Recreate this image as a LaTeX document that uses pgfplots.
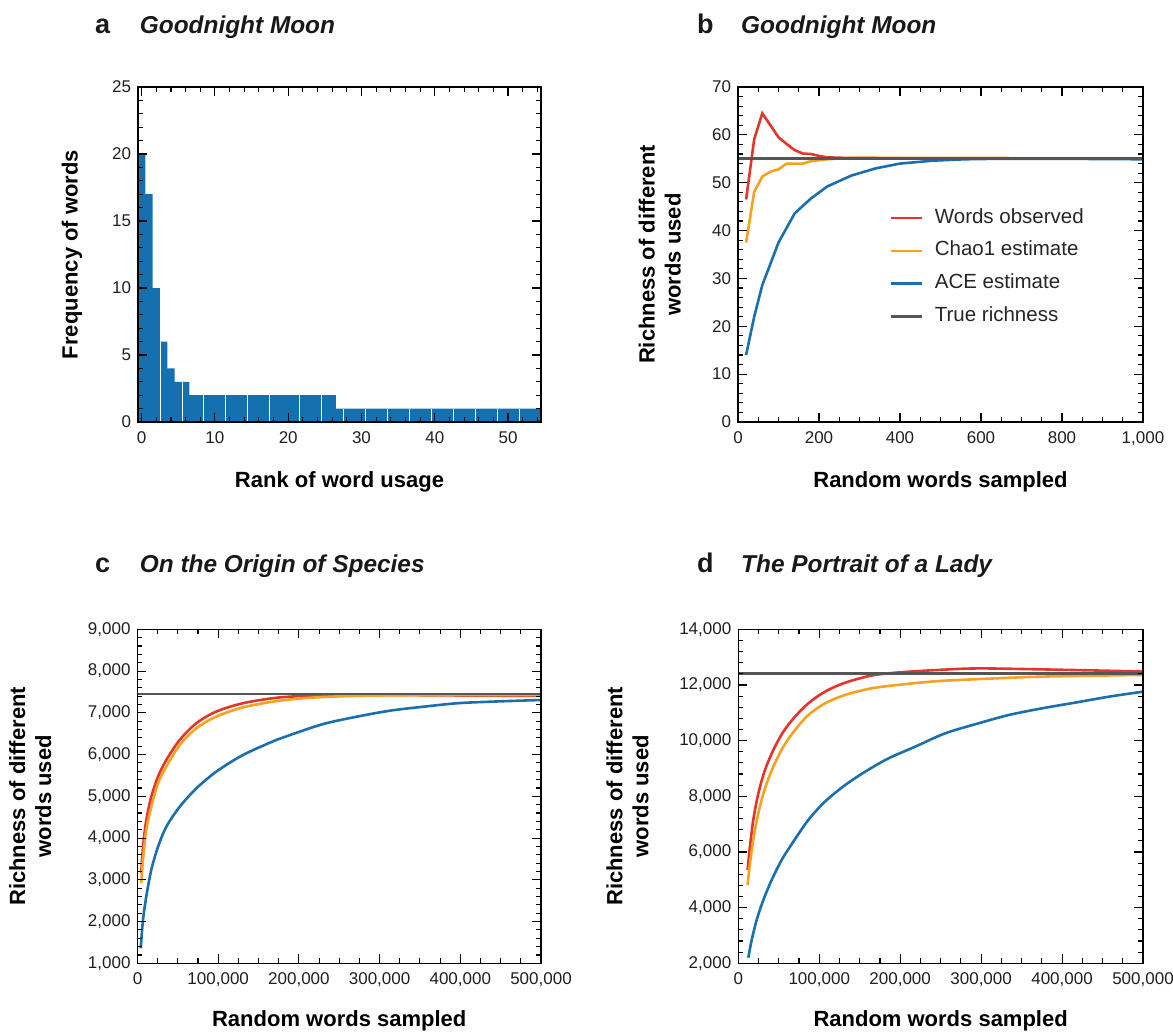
\documentclass[border=0pt]{standalone}
\usepackage{fontspec}
\setmainfont{Liberation Sans}
\usepackage{pgfplots}
\pgfplotsset{compat=1.18}

\definecolor{barblue}{HTML}{1570AF}
\definecolor{cred}{HTML}{E4352B}
\definecolor{corange}{HTML}{F7A21F}
\definecolor{cblue}{HTML}{1A6FAF}
\definecolor{cgray}{HTML}{555555}

\pgfplotsset{
  panel/.style={
    scale only axis, axis on top, clip=true,
    tick align=inside, major tick length=9pt, minor tick length=5pt,
    tick style={black, line width=1.1pt},
    axis line style={line width=1.3pt},
    tick label style={font=\fontsize{17}{20}\selectfont, text=black!88},
    xticklabel style={yshift=-6pt},
    yticklabel style={xshift=-3.5pt},
    label style={font=\bfseries\fontsize{22}{26}\selectfont},
    /pgf/number format/assume math mode=true,
    /pgf/number format/fixed,
    /pgf/number format/1000 sep={,},
    scaled ticks=false,
  },
  curve/.style={line width=2.6pt, no markers},
}

\begin{document}
\begin{tikzpicture}
\path[use as bounding box] (0,0) rectangle (1173pt,-1033pt);

% panel a
\begin{axis}[panel, at={(138pt,-422pt)}, anchor=south west,
  width=403pt, height=335pt,
  xmin=-0.5, xmax=54.5, ymin=0, ymax=25,
  xtick={0,10,...,50}, minor xtick={2,4,...,54},
  ytick={0,5,...,25}, minor ytick={0,1,...,25},
  xlabel={Rank of word usage}, ylabel={Frequency of words},
  xlabel style={at={(axis description cs:0.5,-0.179)}, anchor=center},
  ylabel style={at={(axis description cs:-0.164,0.5)}, anchor=center}]
\addplot[const plot mark left, fill=barblue, draw=none] coordinates {
  (-0.5,20) (0.5,17) (1.5,10) (2.5,6) (3.5,4) (4.5,3) (6.5,2) (26.5,1) (54.5,1)} \closedcycle;
\addplot[ycomb, white, line width=0.9pt, mark=none] coordinates {
  (2.5,6) (5.5,3) (8.5,2) (11.5,2) (14.5,2) (17.5,2) (21.5,2) (24.5,2)
  (27.5,1) (30.5,1) (33.5,1) (36.5,1) (39.5,1) (42.5,1) (45.5,1) (48.5,1) (51.5,1)};
\end{axis}

% panel b
\begin{axis}[panel, at={(738pt,-422pt)}, anchor=south west,
  width=405pt, height=335pt,
  xmin=0, xmax=1000, ymin=0, ymax=70,
  xtick={0,200,...,1000}, minor xtick={0,50,...,1000},
  ytick={0,10,...,70}, minor ytick={0,2,...,70},
  xlabel={Random words sampled}, ylabel={Richness of different\\words used},
  xlabel style={at={(axis description cs:0.5,-0.179)}, anchor=center},
  ylabel style={at={(axis description cs:-0.193,0.5)}, anchor=center, align=center},
  legend cell align=left,
  legend image code/.code={\draw[#1] (0pt,0pt) -- (31pt,0pt);},
  legend style={at={(0.373,0.636)}, anchor=north west, draw=none, fill=none,
    inner sep=0pt, row sep=14.7pt,
    font=\fontsize{20.5}{24}\selectfont, text=black!85,
    nodes={inner sep=0pt, text height=14pt, text depth=4pt},
    /tikz/every odd column/.append style={column sep=12pt}}]
\addplot[curve, cred] coordinates {
  (20,46.5) (40,59.1) (60,64.5) (80,62.0) (100,59.5) (120,58.1) (140,56.8) (160,56.1)
  (180,56.0) (200,55.6) (220,55.3) (260,55.2) (300,55.2) (400,55.1) (1000,55.1)};
\addlegendentry{Words observed}
\addplot[curve, corange] coordinates {
  (20,37.5) (40,48.1) (60,51.3) (80,52.3) (100,52.8) (120,54.0) (160,54.0) (180,54.5)
  (220,54.9) (260,55.1) (300,55.2) (400,55.2) (1000,55.1)};
\addlegendentry{Chao1 estimate}
\addplot[curve, cblue] coordinates {
  (20,14.0) (40,22.0) (60,28.6) (100,37.5) (140,43.6) (180,46.7) (220,49.2) (280,51.5)
  (340,53.0) (400,54.0) (480,54.6) (560,54.9) (640,55.0) (800,55.0) (1000,54.9)};
\addlegendentry{ACE estimate}
\addplot[curve, cgray] coordinates {(0,55.1) (1000,55.1)};
\addlegendentry{True richness}
\end{axis}

% panel c
\begin{axis}[panel, at={(137.5pt,-963.3pt)}, anchor=south west,
  width=403.5pt, height=334pt,
  xmin=0, xmax=500000, ymin=1000, ymax=9000,
  xtick={0,100000,...,500000}, minor xtick={0,25000,...,500000},
  ytick={1000,2000,...,9000}, minor ytick={1000,1200,...,9000},
  xlabel={Random words sampled}, ylabel={Richness of different\\words used},
  xlabel style={at={(axis description cs:0.5,-0.171)}, anchor=center},
  ylabel style={at={(axis description cs:-0.266,0.5)}, anchor=center, align=center}]
\addplot[curve, cred, smooth] coordinates {
  (4700,3160) (6800,3790) (10900,4430) (17100,4990) (25400,5470) (35700,5870)
  (52300,6350) (72900,6750) (97600,7030) (130700,7230) (172000,7360) (213400,7410)
  (260000,7425) (320000,7425) (400000,7415) (500000,7405)};
\addplot[curve, corange, smooth] coordinates {
  (4700,2920) (6800,3480) (10900,4200) (17100,4750) (25400,5310) (35700,5710)
  (52300,6230) (72900,6630) (97600,6910) (130700,7130) (172000,7280) (213400,7360)
  (260000,7400) (320000,7420) (400000,7425) (500000,7425)};
\addplot[curve, cblue, smooth] coordinates {
  (4000,1360) (6800,2040) (10900,2600) (17100,3240) (25400,3790) (35700,4270)
  (52300,4750) (72900,5190) (97600,5590) (130700,5990) (172000,6350) (189000,6468)
  (230300,6732) (271600,6907) (312900,7051) (354200,7146) (395500,7228)
  (436800,7266) (500000,7307)};
\addplot[curve, cgray] coordinates {(0,7450) (500000,7450)};
\end{axis}

% panel d
\begin{axis}[panel, at={(738.3pt,-963.3pt)}, anchor=south west,
  width=404.7pt, height=334pt,
  xmin=0, xmax=500000, ymin=2000, ymax=14000,
  xtick={0,100000,...,500000}, minor xtick={0,25000,...,500000},
  ytick={2000,4000,...,14000}, minor ytick={2000,2400,...,14000},
  xlabel={Random words sampled}, ylabel={Richness of different\\words used},
  xlabel style={at={(axis description cs:0.5,-0.171)}, anchor=center},
  ylabel style={at={(axis description cs:-0.274,0.5)}, anchor=center, align=center}]
\addplot[curve, cred, smooth] coordinates {
  (11500,5350) (14400,6190) (18500,7150) (24700,8100) (32900,8940) (43200,9660)
  (55600,10320) (70000,10860) (86500,11340) (107100,11760) (131800,12080)
  (164700,12340) (197700,12450) (247100,12540) (296500,12595) (375000,12560)
  (458000,12510) (500000,12480)};
\addplot[curve, corange, smooth] coordinates {
  (11500,4810) (14400,5590) (18500,6430) (24700,7390) (32900,8280) (43200,9060)
  (55600,9780) (70000,10380) (86500,10920) (107100,11340) (131800,11640)
  (164700,11880) (205900,12030) (247100,12140) (296500,12210) (375000,12300)
  (500000,12360)};
\addplot[curve, cblue, smooth] coordinates {
  (12300,2200) (16500,2830) (22600,3550) (30900,4270) (41200,4990) (53500,5710)
  (68000,6370) (86500,7150) (107100,7810) (131800,8400) (156500,8880)
  (185300,9360) (218300,9780) (255300,10260) (296500,10620) (334000,10920)
  (375000,11160) (417000,11370) (458000,11580) (500000,11760)};
\addplot[curve, cgray] coordinates {(0,12420) (500000,12420)};
\end{axis}

% panel titles
\begin{scope}[every node/.style={anchor=base west, inner sep=0pt, text=black!90}]
\node[font=\bfseries\fontsize{27}{30}\selectfont] at (95pt,-33.5pt) {a};
\node[font=\bfseries\itshape\fontsize{24.4}{28}\selectfont] at (139.7pt,-33.5pt) {Goodnight Moon};
\node[font=\bfseries\fontsize{27}{30}\selectfont] at (697pt,-33.5pt) {b};
\node[font=\bfseries\itshape\fontsize{24.4}{28}\selectfont] at (741pt,-33.5pt) {Goodnight Moon};
\node[font=\bfseries\fontsize{27}{30}\selectfont] at (95pt,-572pt) {c};
\node[font=\bfseries\itshape\fontsize{24.4}{28}\selectfont] at (139.7pt,-572pt) {On the Origin of Species};
\node[font=\bfseries\fontsize{27}{30}\selectfont] at (697pt,-572pt) {d};
\node[font=\bfseries\itshape\fontsize{24.4}{28}\selectfont] at (741pt,-572pt) {The Portrait of a Lady};
\end{scope}
\end{tikzpicture}
\end{document}
